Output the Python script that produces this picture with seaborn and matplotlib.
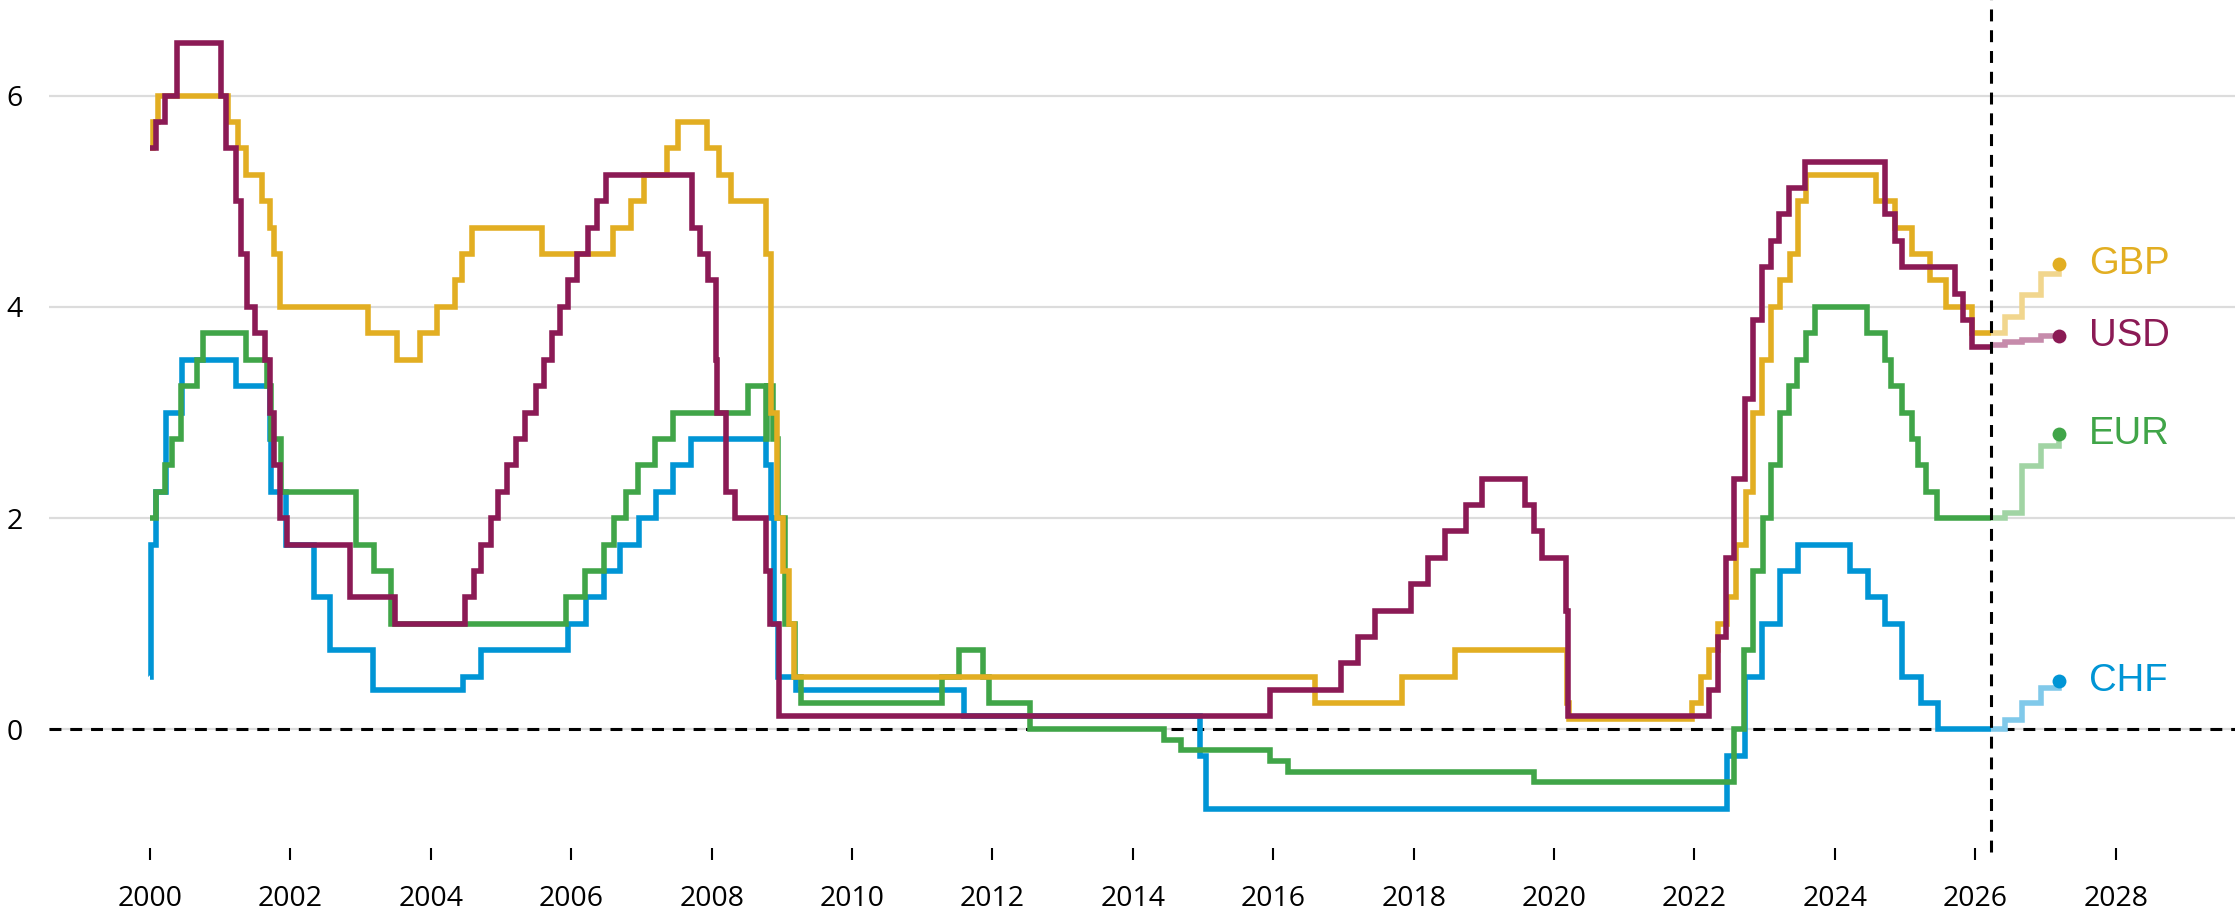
import numpy as np
import pandas as pd
import seaborn as sns
import matplotlib.pyplot as plt

# policy rates, change points (decimal year) and level in %
usd_t = [2000.00, 2000.09, 2000.22, 2000.38, 2001.01, 2001.08, 2001.22, 2001.30, 2001.38, 2001.49,
         2001.64, 2001.71, 2001.76, 2001.85, 2001.95, 2002.85, 2003.49, 2004.49, 2004.61, 2004.72,
         2004.86, 2004.96, 2005.09, 2005.22, 2005.34, 2005.50, 2005.61, 2005.72, 2005.84, 2005.96,
         2006.08, 2006.24, 2006.36, 2006.49, 2007.72, 2007.83, 2007.95, 2008.06, 2008.08, 2008.21,
         2008.33, 2008.77, 2008.83, 2008.96, 2015.96, 2016.96, 2017.21, 2017.45, 2017.96, 2018.21,
         2018.45, 2018.74, 2018.97, 2019.58, 2019.72, 2019.83, 2020.17, 2020.20, 2022.21, 2022.34,
         2022.45, 2022.57, 2022.72, 2022.84, 2022.96, 2023.09, 2023.21, 2023.34, 2023.57, 2024.71,
         2024.85, 2024.96, 2025.71, 2025.83, 2025.95, 2026.22]
usd_r = [5.5, 5.75, 6.0, 6.5, 6.0, 5.5, 5.0, 4.5, 4.0, 3.75,
         3.5, 3.0, 2.5, 2.0, 1.75, 1.25, 1.0, 1.25, 1.5, 1.75,
         2.0, 2.25, 2.5, 2.75, 3.0, 3.25, 3.5, 3.75, 4.0, 4.25,
         4.5, 4.75, 5.0, 5.25, 4.75, 4.5, 4.25, 3.5, 3.0, 2.25,
         2.0, 1.5, 1.0, 0.125, 0.375, 0.625, 0.875, 1.125, 1.375, 1.625,
         1.875, 2.125, 2.375, 2.125, 1.875, 1.625, 1.125, 0.125, 0.375, 0.875,
         1.625, 2.375, 3.125, 3.875, 4.375, 4.625, 4.875, 5.125, 5.375, 4.875,
         4.625, 4.375, 4.125, 3.875, 3.625, 3.625]

gbp_t = [2000.00, 2000.04, 2000.11, 2001.11, 2001.26, 2001.36, 2001.59, 2001.71, 2001.76, 2001.85,
         2003.10, 2003.52, 2003.85, 2004.09, 2004.35, 2004.44, 2004.59, 2005.59, 2006.59, 2006.85,
         2007.03, 2007.36, 2007.52, 2007.94, 2008.11, 2008.27, 2008.77, 2008.84, 2008.93, 2009.02,
         2009.10, 2009.18, 2016.59, 2017.84, 2018.59, 2020.19, 2020.21, 2021.96, 2022.09, 2022.21,
         2022.34, 2022.46, 2022.59, 2022.73, 2022.84, 2022.96, 2023.09, 2023.22, 2023.36, 2023.47,
         2023.59, 2024.59, 2024.85, 2025.10, 2025.36, 2025.59, 2025.96, 2026.22]
gbp_r = [5.5, 5.75, 6.0, 5.75, 5.5, 5.25, 5.0, 4.75, 4.5, 4.0,
         3.75, 3.5, 3.75, 4.0, 4.25, 4.5, 4.75, 4.5, 4.75, 5.0,
         5.25, 5.5, 5.75, 5.5, 5.25, 5.0, 4.5, 3.0, 2.0, 1.5,
         1.0, 0.5, 0.25, 0.5, 0.75, 0.25, 0.1, 0.25, 0.5, 0.75,
         1.0, 1.25, 1.75, 2.25, 3.0, 3.5, 4.0, 4.25, 4.5, 5.0,
         5.25, 5.0, 4.75, 4.5, 4.25, 4.0, 3.75, 3.75]

eur_t = [2000.00, 2000.09, 2000.22, 2000.32, 2000.44, 2000.67, 2000.76, 2001.36, 2001.66, 2001.72,
         2001.86, 2002.93, 2003.19, 2003.43, 2005.93, 2006.19, 2006.46, 2006.61, 2006.78, 2006.95,
         2007.19, 2007.45, 2008.52, 2008.77, 2008.79, 2008.87, 2008.94, 2009.05, 2009.19, 2009.27,
         2011.28, 2011.53, 2011.86, 2011.95, 2012.53, 2014.44, 2014.69, 2015.95, 2016.21, 2019.71,
         2022.57, 2022.71, 2022.84, 2022.97, 2023.09, 2023.22, 2023.35, 2023.46, 2023.59, 2023.72,
         2024.46, 2024.71, 2024.80, 2024.96, 2025.10, 2025.19, 2025.30, 2025.45, 2026.22]
eur_r = [2.0, 2.25, 2.5, 2.75, 3.25, 3.5, 3.75, 3.5, 3.25, 2.75,
         2.25, 1.75, 1.5, 1.0, 1.25, 1.5, 1.75, 2.0, 2.25, 2.5,
         2.75, 3.0, 3.25, 2.75, 3.25, 2.75, 2.0, 1.0, 0.5, 0.25,
         0.5, 0.75, 0.5, 0.25, 0.0, -0.1, -0.2, -0.3, -0.4, -0.5,
         0.0, 0.75, 1.5, 2.0, 2.5, 3.0, 3.25, 3.5, 3.75, 4.0,
         3.75, 3.5, 3.25, 3.0, 2.75, 2.5, 2.25, 2.0, 2.0]

chf_t = [2000.00, 2000.01, 2000.09, 2000.23, 2000.45, 2001.22, 2001.71, 2001.73, 2001.93, 2002.33,
         2002.57, 2003.18, 2004.46, 2004.71, 2005.96, 2006.21, 2006.46, 2006.70, 2006.96, 2007.21,
         2007.45, 2007.70, 2008.77, 2008.85, 2008.89, 2008.95, 2009.20, 2011.59, 2014.96, 2015.04,
         2022.46, 2022.72, 2022.96, 2023.22, 2023.47, 2024.22, 2024.47, 2024.72, 2024.96, 2025.22,
         2025.47, 2026.22]
chf_r = [0.5, 1.75, 2.25, 3.0, 3.5, 3.25, 2.75, 2.25, 1.75, 1.25,
         0.75, 0.375, 0.5, 0.75, 1.0, 1.25, 1.5, 1.75, 2.0, 2.25,
         2.5, 2.75, 2.5, 2.0, 1.0, 0.5, 0.375, 0.125, -0.25, -0.75,
         -0.25, 0.5, 1.0, 1.5, 1.75, 1.5, 1.25, 1.0, 0.5, 0.25,
         0.0, 0.0]

# market expectations after the cut-off date
fwd_t = [2026.22, 2026.43, 2026.67, 2026.93, 2027.20]
usd_fwd = [3.64, 3.67, 3.69, 3.72, 3.72]
gbp_fwd = [3.75, 3.90, 4.11, 4.31, 4.41]
eur_fwd = [2.0, 2.05, 2.49, 2.68, 2.80]
chf_fwd = [0.0, 0.09, 0.25, 0.39, 0.46]

today = 2026.22
years = list(range(2000, 2030, 2))

series = [
	('CHF', chf_t, chf_r, chf_fwd, '#0095d5', '#80c9ea'),
	('EUR', eur_t, eur_r, eur_fwd, '#40a548', '#a1d4a4'),
	('GBP', gbp_t, gbp_r, gbp_fwd, '#e2ae22', '#f1d68e'),
	('USD', usd_t, usd_r, usd_fwd, '#8b1a55', '#c68bab'),
]

sns.set_theme(style='white')
plt.rcParams['font.family'] = ['Open Sans', 'DejaVu Sans']

fig = plt.figure(figsize=(22.35, 9.17), dpi=100)
ax = fig.add_axes([0.0219, 0.0752, 0.9781, 0.9248])

for name, t, r, fwd, col, light in series:
	df = pd.DataFrame({'year': t, 'rate': r})
	sns.lineplot(data=df, x='year', y='rate', ax=ax, color=col, lw=4.0, estimator=None,
		drawstyle='steps-post', solid_joinstyle='miter', solid_capstyle='butt', zorder=3)

for name, t, r, fwd, col, light in series:
	dfp = pd.DataFrame({'year': fwd_t, 'rate': fwd})
	sns.lineplot(data=dfp, x='year', y='rate', ax=ax, color=light, lw=4.0, estimator=None,
		drawstyle='steps-post', solid_joinstyle='miter', solid_capstyle='butt', zorder=3)
	sns.scatterplot(x=[fwd_t[-1]], y=[fwd[-1]], ax=ax, color=col, s=100, linewidth=0, zorder=4)
	ax.annotate(name, (fwd_t[-1], fwd[-1]), xytext=(21, 0), textcoords='offset points',
		va='center', ha='left', color=col, fontsize=27.5, family='Liberation Sans')

ax.axhline(0, color='black', lw=2.2, ls=(0, (3.9, 2.9)), zorder=2)
ax.axvline(today, ymin=-0.005, ymax=1, color='black', lw=2.2, ls=(0, (3.9, 2.9)),
	zorder=5, clip_on=False)

ax.set_xlim(1998.56, 2029.70)
ax.set_ylim(-1.124, 6.906)
ax.set_yticks([0, 2, 4, 6])
ax.set_xticks(years)
ax.yaxis.grid(True, color='#dcdcdc', lw=1.6)
ax.xaxis.grid(False)
ax.set_xlabel('')
ax.set_ylabel('')
for s in ax.spines.values():
	s.set_visible(False)
ax.tick_params(axis='x', bottom=True, direction='out', length=8.6, width=1.5, color='black',
	pad=18, labelsize=20.5, labelcolor='black')
ax.tick_params(axis='y', left=False, pad=13, labelsize=20.5, labelcolor='black')

fig.savefig('out.png', dpi=100)
